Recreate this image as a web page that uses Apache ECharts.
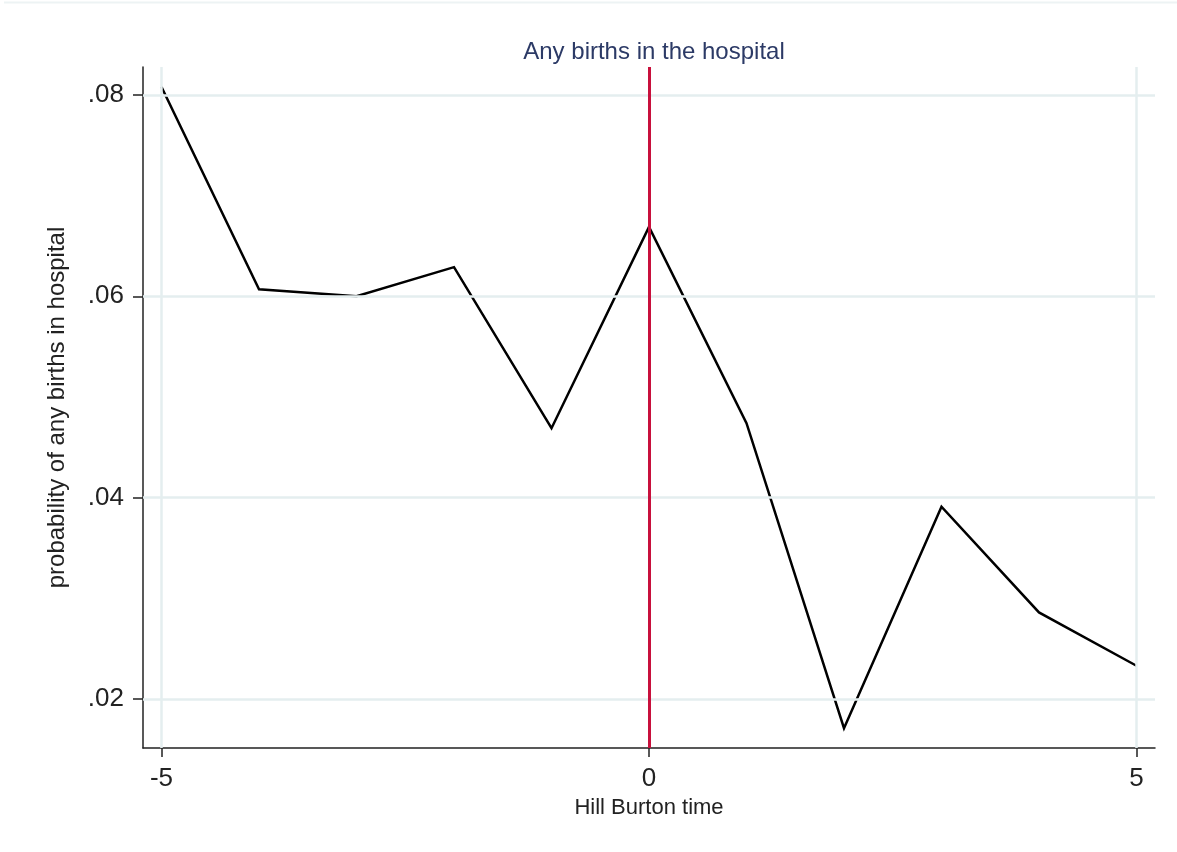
<!DOCTYPE html>
<html>
<head>
<meta charset="utf-8">
<script src="https://cdn.jsdelivr.net/npm/echarts@6/dist/echarts.min.js"></script>
<style>
  html, body { margin: 0; padding: 0; background: #ffffff; }
  #chart { width: 1177px; height: 852px; }
</style>
</head>
<body>
<div id="chart"></div>
<script>
// Event-study estimates: probability of any births in the hospital by Hill Burton time
const hbTime = [-5, -4, -3, -2, -1, 0, 1, 2, 3, 4, 5];
const probAnyBirth = [0.0808, 0.0607, 0.0600, 0.0629, 0.0469, 0.0669, 0.0474, 0.0171, 0.0391, 0.0286, 0.0233];

// Axis ticks
const xTicks = [-5, 0, 5];
const yTicks = [0.02, 0.04, 0.06, 0.08];

// Timing of the Hill Burton event
const eventTime = 0;

const FONT = "'Liberation Sans', Arial, Helvetica, sans-serif";
const GRID_COLOR = '#e4eeef';
const AXIS_COLOR = '#222222';

const chart = echarts.init(document.getElementById('chart'), null, { renderer: 'canvas' });

const option = {
  animation: false,
  backgroundColor: '#ffffff',
  textStyle: { fontFamily: FONT },
  title: {
    text: 'Any births in the hospital',
    left: 649,
    top: 35,
    textAlign: 'center',
    textStyle: { fontFamily: FONT, fontSize: 24, fontWeight: 'normal', color: '#2c3a66' }
  },
  graphic: [{
    type: 'line',
    shape: { x1: 4, y1: 2.5, x2: 1177, y2: 2.5 },
    style: { stroke: '#edf3f4', lineWidth: 2 },
    silent: true
  }],
  grid: { left: 143, right: 22, top: 67, bottom: 104, containLabel: false },
  xAxis: {
    type: 'value',
    min: -5.19,
    max: 5.19,
    name: 'Hill Burton time',
    nameLocation: 'middle',
    nameGap: 47,
    nameTextStyle: { fontFamily: FONT, fontSize: 22, color: '#222222' },
    axisLine: { show: true, onZero: false, lineStyle: { color: AXIS_COLOR, width: 1.5 } },
    axisTick: { show: true, length: 9, customValues: xTicks, lineStyle: { color: AXIS_COLOR, width: 1.5 } },
    axisLabel: {
      customValues: xTicks,
      margin: 18,
      fontFamily: FONT,
      fontSize: 26,
      color: '#222222',
      formatter: v => String(v)
    },
    splitLine: { show: false }
  },
  yAxis: {
    type: 'value',
    min: 0.01513,
    max: 0.08278,
    name: 'probability of any births in hospital',
    nameLocation: 'middle',
    nameGap: 74,
    nameTextStyle: { fontFamily: FONT, fontSize: 24, color: '#222222' },
    axisLine: { show: true, onZero: false, lineStyle: { color: AXIS_COLOR, width: 1.5 } },
    axisTick: { show: true, length: 10, customValues: yTicks, lineStyle: { color: AXIS_COLOR, width: 1.5 } },
    axisLabel: {
      customValues: yTicks,
      margin: 19,
      fontFamily: FONT,
      fontSize: 26,
      color: '#222222',
      formatter: v => v.toFixed(2).replace(/^0/, '')
    },
    splitLine: { show: false }
  },
  series: [
    {
      // light gridlines at each tick
      name: 'grid',
      type: 'line',
      data: [],
      z: 1,
      silent: true,
      markLine: {
        silent: true,
        symbol: ['none', 'none'],
        label: { show: false },
        lineStyle: { type: 'solid', color: GRID_COLOR, width: 2.5 },
        data: [
          ...xTicks.map(v => ({ xAxis: v })),
          ...yTicks.map(v => ({ yAxis: v }))
        ]
      }
    },
    {
      name: 'probability of any births in hospital',
      type: 'line',
      data: hbTime.map((t, i) => [t, probAnyBirth[i]]),
      z: 2,
      showSymbol: false,
      symbol: 'none',
      lineStyle: { color: '#000000', width: 2.5, join: 'miter' },
      silent: true
    },
    {
      // vertical reference line at the event
      name: 'event',
      type: 'line',
      data: [],
      z: 3,
      silent: true,
      markLine: {
        silent: true,
        symbol: ['none', 'none'],
        label: { show: false },
        lineStyle: { type: 'solid', color: '#c8103c', width: 3 },
        data: [{ xAxis: eventTime }]
      }
    }
  ]
};

chart.setOption(option);
</script>
</body>
</html>
